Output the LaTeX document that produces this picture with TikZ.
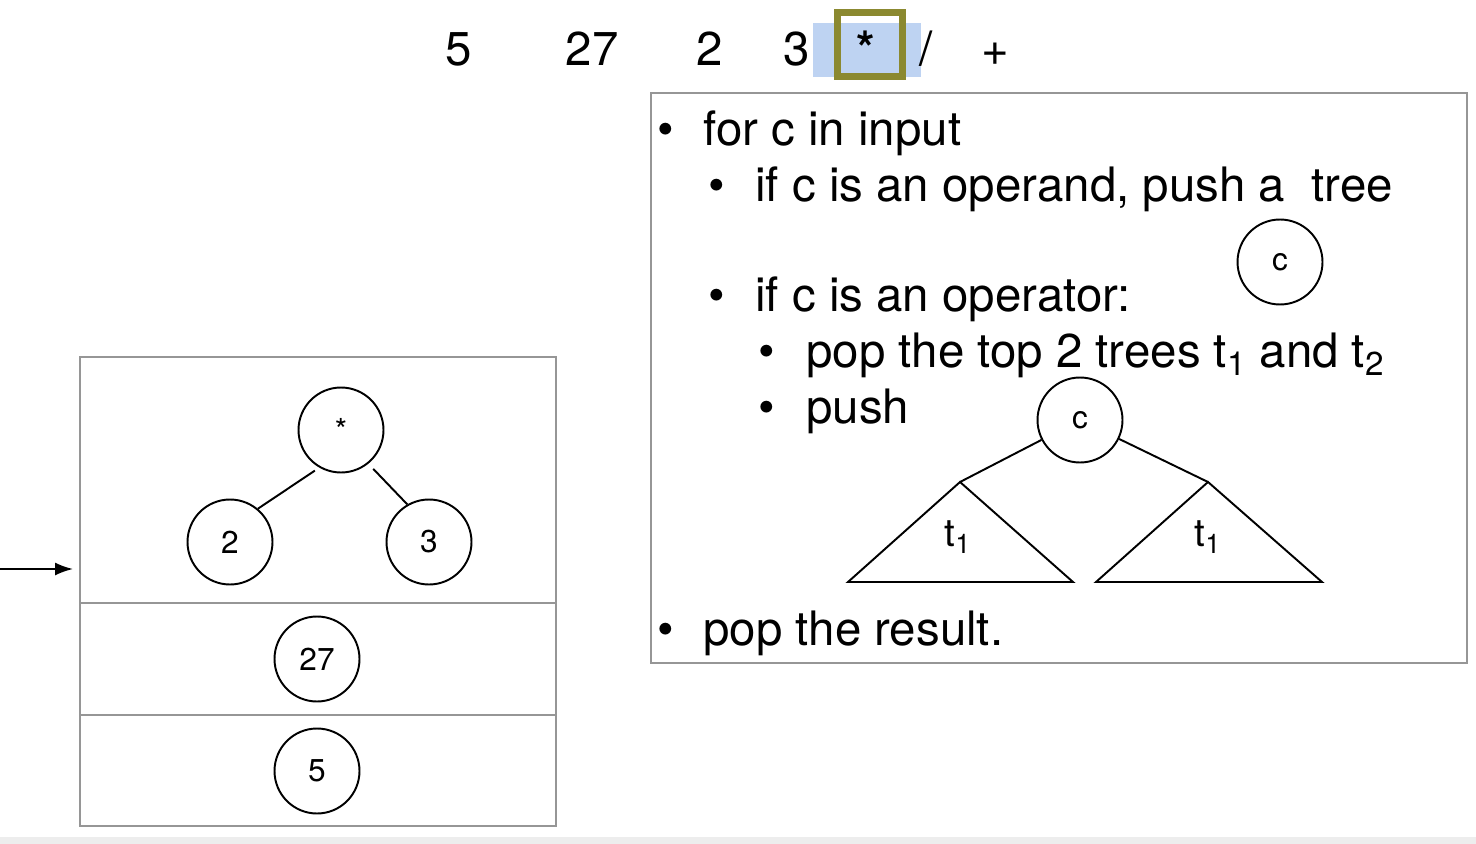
\documentclass[tikz,border=0pt]{standalone}
\usepackage{fontspec}
\setmainfont{TeX Gyre Heros}
\usetikzlibrary{arrows.meta}
\definecolor{hilite}{RGB}{190,211,242}
\definecolor{olivebox}{RGB}{139,137,48}
\definecolor{framegray}{RGB}{150,150,150}

\begin{document}
\begin{tikzpicture}[x=0.02cm,y=-0.02cm]
                      \tikzstyle{vertex}=[circle,draw=black,line width=1.1pt,inner sep=0pt,minimum size=1.70cm,font=\fontsize{18}{20}\selectfont]
                      \tikzstyle{token}=[anchor=base,inner sep=0pt,font=\fontsize{27}{30}\selectfont]
                      \tikzstyle{item}=[anchor=base west,inner sep=0pt,font=\fontsize{27}{30}\selectfont]
                      \useasboundingbox (0,0) rectangle (1476,844);
                      \fill[black!7] (0,837) rectangle (1476,844);
                      % input line
                      \fill[hilite] (813,23) rectangle (921,77);
                      \draw[olivebox,line width=0.14cm] (837,13) rectangle (902,77);
                      \node[token] (i1) at (459,66) {5};
                      \node[token] (i2) at (592,66) {27};
                      \node[token] (i3) at (710,66) {2};
                      \node[token] (i4) at (797,66) {3};
                      \node[token] (i5) at (866,66) {\textbf{*}};
                      \node[token] (i6) at (926,66) {/};
                      \node[token] (i7) at (995,66) {+};
                      % algorithm box
                      \draw[framegray,line width=1.2pt] (651,93) rectangle (1467,663);
                      \node[item] (b1) at (657,146) {\textbullet};
                      \node[item] (s1) at (703,146) {for c in input};
                      \node[item] (b2) at (708,202) {\textbullet};
                      \node[item] (s2) at (755,202) {if c is an operand, push a \ tree};
                      \node[vertex] (c1) at (1280,262) {c};
                      \node[item] (b3) at (708,312) {\textbullet};
                      \node[item] (s3) at (755,312) {if c is an operator:};
                      \node[item] (b4) at (758,367) {\textbullet};
                      \node[item] (s4) at (806,367) {pop the top 2 trees t\textsubscript{1} and t\textsubscript{2}};
                      \node[item] (b5) at (758,423) {\textbullet};
                      \node[item] (s5) at (806,423) {push};
                      \node[vertex] (c2) at (1080,420) {c};
                      \coordinate (ta) at (960,482);
                      \coordinate (tb) at (848,582);
                      \coordinate (tc) at (1073,582);
                      \coordinate (td) at (1208,482);
                      \coordinate (te) at (1096,582);
                      \coordinate (tf) at (1322,582);
                      \draw[line width=1.1pt] (ta) -- (tb) -- (tc) -- cycle;
                      \draw[line width=1.1pt] (td) -- (te) -- (tf) -- cycle;
                      \draw[line width=1.1pt] (c2) -- (ta);
                      \draw[line width=1.1pt] (c2) -- (td);
                      \node[font=\fontsize{22}{24}\selectfont] (l1) at (958,537) {t\textsubscript{1}};
                      \node[font=\fontsize{22}{24}\selectfont] (l2) at (1208,537) {t\textsubscript{1}};
                      \node[item] (b6) at (657,645) {\textbullet};
                      \node[item] (s6) at (703,645) {pop the result.};
                      % stack
                      \draw[framegray,line width=1.2pt] (80,357) rectangle (556,826);
                      \draw[framegray,line width=1.2pt] (80,603) -- (556,603);
                      \draw[framegray,line width=1.2pt] (80,715) -- (556,715);
                      \node[vertex] (m) at (341,430) {*};
                      \node[vertex] (n2) at (230,542) {2};
                      \node[vertex] (n3) at (429,542) {3};
                      \node[vertex] (n27) at (317,659) {27};
                      \node[vertex] (n5) at (317,771) {5};
                      \draw[line width=1.1pt,shorten <=3pt] (m.240) -- (n2.50);
                      \draw[line width=1.1pt,shorten <=4pt] (m.-51) -- (n3.120);
                      \coordinate (p0) at (0,569);
                      \coordinate (p1) at (73,569);
                      \draw[line width=1.1pt,-{Latex[length=0.36cm,width=0.26cm]}] (p0) -- (p1);
                  \end{tikzpicture}
\end{document}
